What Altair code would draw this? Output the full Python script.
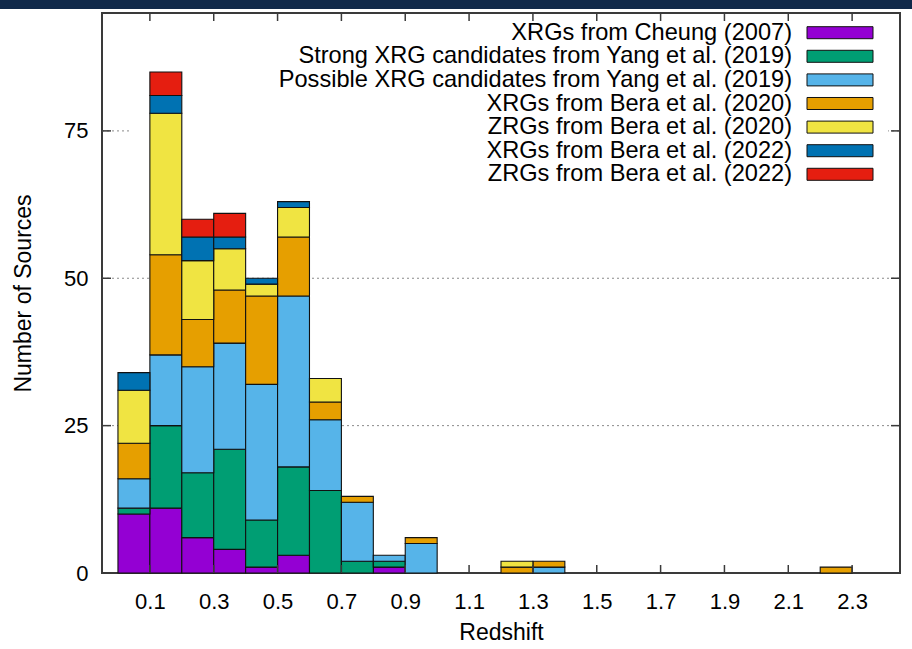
import altair as alt
import pandas as pd

# Redshift bins (lower edges, width 0.1)
bin_lo = [0.0, 0.1, 0.2, 0.3, 0.4, 0.5, 0.6, 0.7, 0.8, 0.9, 1.2, 1.3, 2.2]
bin_width = 0.1

series = [
    "XRGs from Cheung (2007)",
    "Strong XRG candidates from Yang et al. (2019)",
    "Possible XRG candidates from Yang et al. (2019)",
    "XRGs from Bera et al. (2020)",
    "ZRGs from Bera et al. (2020)",
    "XRGs from Bera et al. (2022)",
    "ZRGs from Bera et al. (2022)",
]
colors = ["#9400d3", "#009e73", "#56b4e9", "#e69f00", "#f0e442", "#0072b2", "#e51e10"]

# Counts per bin for each sample
cheung        = [10, 11, 6, 4, 1, 3, 0, 0, 1, 0, 0, 0, 0]
yang_strong   = [1, 14, 11, 17, 8, 15, 14, 2, 1, 0, 0, 0, 0]
yang_possible = [5, 12, 18, 18, 23, 29, 12, 10, 1, 5, 0, 1, 0]
bera20_xrg    = [6, 17, 8, 9, 15, 10, 3, 1, 0, 1, 1, 1, 1]
bera20_zrg    = [9, 24, 10, 7, 2, 5, 4, 0, 0, 0, 1, 0, 0]
bera22_xrg    = [3, 3, 4, 2, 1, 1, 0, 0, 0, 0, 0, 0, 0]
bera22_zrg    = [0, 4, 3, 4, 0, 0, 0, 0, 0, 0, 0, 0, 0]

x_ticks = [0.1, 0.3, 0.5, 0.7, 0.9, 1.1, 1.3, 1.5, 1.7, 1.9, 2.1, 2.3]
y_ticks = [0, 25, 50, 75]
y_grid = [25, 50, 75]

FONT = "Liberation Sans"
FRAME = "#3a3a3a"
W, H = 798, 560

counts = [cheung, yang_strong, yang_possible, bera20_xrg, bera20_zrg, bera22_xrg, bera22_zrg]
rows = []
for j, (name, vals) in enumerate(zip(series, counts)):
    for lo, c in zip(bin_lo, vals):
        rows.append({"lo": lo, "hi": round(lo + bin_width, 2), "series": name, "order": j, "count": c})
df = pd.DataFrame(rows)

xscale = alt.Scale(domain=[-0.05, 2.45], nice=False, zero=False)
yscale = alt.Scale(domain=[0, 95], nice=False)

xaxis = alt.Axis(
    values=x_ticks, format=".1f", ticks=False, tickSize=0, domain=False, grid=False,
    labelFont=FONT, labelFontSize=22, labelColor="black", labelPadding=18,
    title="Redshift", titleFont=FONT, titleFontSize=23, titleFontWeight="normal",
    titleColor="black", titleY=59, titleBaseline="middle",
)
yaxis = alt.Axis(
    values=y_ticks, ticks=False, tickSize=0, domain=False, grid=False,
    labelFont=FONT, labelFontSize=22, labelColor="black", labelPadding=14,
    title="Number of Sources", titleFont=FONT, titleFontSize=23, titleFontWeight="normal",
    titleColor="black", titleX=-79, titleY=280, titleBaseline="middle",
)

grid_df = pd.DataFrame({"v": y_grid})
ytick_df = pd.DataFrame({"v": y_ticks})
xtick_df = pd.DataFrame({"v": x_ticks})
one = pd.DataFrame({"k": [0]})

grid = alt.Chart(grid_df).mark_rule(color="#8a8a8a", strokeWidth=1, strokeDash=[2, 3]).encode(
    y=alt.Y("v:Q", scale=yscale), x=alt.value(0), x2=alt.value(W)
)

# white key background that hides the grid behind the legend block
key_bg = alt.Chart(one).mark_rect(fill="white").encode(
    x=alt.value(27), x2=alt.value(786), y=alt.value(4), y2=alt.value(176)
)

bars = alt.Chart(df).transform_filter("datum.count > 0").transform_stack(
    stack="count", groupby=["lo"], sort=[alt.SortField("order", "ascending")], as_=["y0", "y1"]
).mark_rect(stroke="#111111", strokeWidth=1.1).encode(
    x=alt.X("lo:Q", scale=xscale, axis=xaxis),
    x2="hi:Q",
    y=alt.Y("y0:Q", scale=yscale, axis=yaxis),
    y2="y1:Q",
    color=alt.Color("series:N", scale=alt.Scale(domain=series, range=colors), legend=None),
)

tick_style = dict(color=FRAME, strokeWidth=1.5)
left_ticks = alt.Chart(ytick_df).mark_rule(**tick_style).encode(
    y=alt.Y("v:Q", scale=yscale), x=alt.value(0), x2=alt.value(9))
right_ticks = alt.Chart(ytick_df).mark_rule(**tick_style).encode(
    y=alt.Y("v:Q", scale=yscale), x=alt.value(W - 9), x2=alt.value(W))
bottom_ticks = alt.Chart(xtick_df).mark_rule(**tick_style).encode(
    x=alt.X("v:Q", scale=xscale), y=alt.value(H), y2=alt.value(H - 8))
top_ticks = alt.Chart(xtick_df).mark_rule(**tick_style).encode(
    x=alt.X("v:Q", scale=xscale), y=alt.value(0), y2=alt.value(8))

header = alt.Chart(one).mark_rect(fill="#10294a").encode(
    x=alt.value(-102), x2=alt.value(W + 12), y=alt.value(-13), y2=alt.value(-4)
)

main = alt.layer(grid, key_bg, bars, left_ticks, right_ticks, bottom_ticks, top_ticks, header)

# key: labels right-aligned, colour swatches to their right
legend_df = pd.DataFrame({"row": list(range(len(series))), "label": series, "color": colors})
row_scale = alt.Scale(type="point", domain=list(range(len(series))), range=[19.7, 161.3], padding=0)

key_text = alt.Chart(legend_df).mark_text(
    align="right", baseline="middle", font=FONT, fontSize=23.6, color="black"
).encode(
    x=alt.value(690), y=alt.Y("row:O", scale=row_scale, axis=None), text="label:N"
)
key_swatch = alt.Chart(legend_df).mark_point(
    shape="M-1,-0.182H1V0.182H-1Z", size=4356, filled=True, opacity=1,
    stroke="#111111", strokeWidth=1, strokeOpacity=1
).encode(
    x=alt.value(738), y=alt.Y("row:O", scale=row_scale, axis=None),
    fill=alt.Fill("color:N", scale=None),
)
key = alt.layer(key_text, key_swatch)

chart = alt.layer(main, key).resolve_scale(y="independent").properties(
    width=W, height=H,
    padding={"left": 102, "top": 13, "right": 12, "bottom": 76},
    autosize=alt.AutoSizeParams(type="none"),
    background="white",
).configure_view(stroke=FRAME, strokeWidth=2)

chart.save("out.html", embed_options={"renderer": "svg", "actions": False})
